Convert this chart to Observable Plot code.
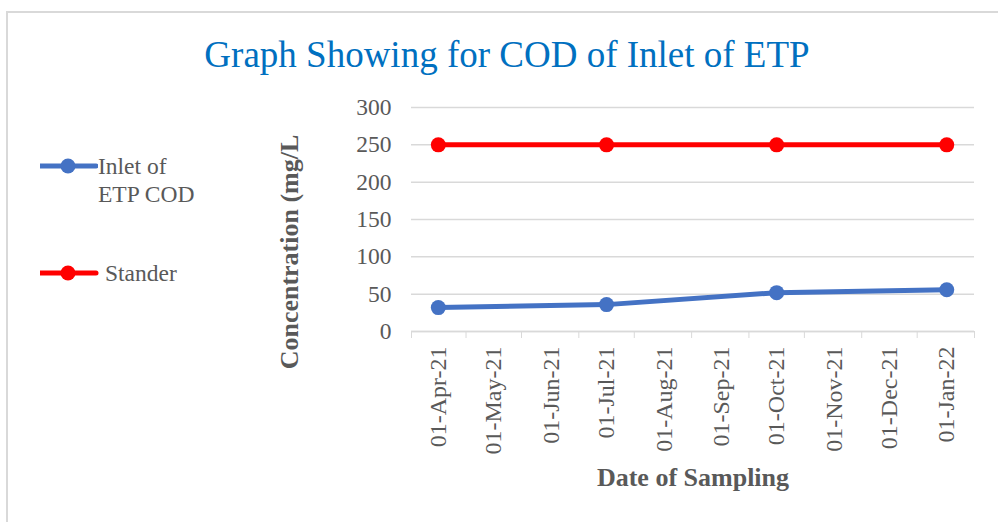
<!DOCTYPE html>
<html>
<head>
<meta charset="utf-8">
<script src="https://cdn.jsdelivr.net/npm/d3@7"></script>
<script src="https://cdn.jsdelivr.net/npm/@observablehq/plot@0.6"></script>
<style>
  body { margin: 0; background: #fff; }
  #wrap { position: relative; width: 998px; height: 522px; overflow: hidden;
          font-family: "Liberation Serif", "Times New Roman", serif; background: #fff; }
  #frame { position: absolute; left: 6px; top: 11px; width: 1000px; height: 520px;
           border-left: 2px solid #d9d9d9; border-top: 2px solid #d9d9d9; }
  #title { position: absolute; left: 8px; width: 998px; top: 36px; text-align: center;
           color: #0070C0; font-size: 37px; line-height: 1; white-space: nowrap; }
  #chart { position: absolute; left: 0; top: 90px; }
  #ylabel { position: absolute; left: 290px; top: 252px; transform: translate(-50%, -50%) rotate(-90deg);
            font-weight: bold; font-size: 26px; color: #595959; white-space: nowrap; line-height: 1; }
  #legend { position: absolute; left: 0; top: 0; }
  .lg { position: absolute; display: flex; align-items: flex-start; color: #595959;
        font-size: 23.5px; line-height: 28px; white-space: nowrap; }
  .lg svg { flex: none; }
  [aria-label="x-axis label"] text {
    font-weight: bold !important; font-size: 26px !important; fill: #595959 !important; }
</style>
</head>
<body>
<div id="wrap">
  <div id="frame"></div>
  <div id="title"></div>
  <div id="ylabel"></div>
  <div id="legend"></div>
  <div id="chart"></div>
</div>
<script>
// ---- data ----
const titleText = "Graph Showing for COD of Inlet of ETP";
const yLabelText = "Concentration (mg/L";
const xLabelText = "Date of Sampling";
const sampleDates = ["2021-04-01", "2021-07-01", "2021-10-01", "2022-01-01"];
const inletCOD    = [32, 36, 52, 56];
const standardCOD = [250, 250, 250, 250];
const seriesNames  = ["Inlet of\nETP COD", "Stander"];
const seriesColors = ["#4472C4", "#FF0000"];
const monthTicks  = ["2021-04-01","2021-05-01","2021-06-01","2021-07-01","2021-08-01",
                     "2021-09-01","2021-10-01","2021-11-01","2021-12-01","2022-01-01"];
const monthLabels = ["01-Apr-21","01-May-21","01-Jun-21","01-Jul-21","01-Aug-21",
                     "01-Sep-21","01-Oct-21","01-Nov-21","01-Dec-21","01-Jan-22"];
const slotEdges   = ["2021-03-17T12:00","2021-04-16","2021-05-16","2021-06-16","2021-07-16",
                     "2021-08-16","2021-09-16","2021-10-16","2021-11-16","2021-12-16","2022-01-16"];
const yTicks = [0, 50, 100, 150, 200, 250, 300];

document.getElementById("title").textContent = titleText;
document.getElementById("ylabel").textContent = yLabelText;

// ---- build table ----
const parse = s => new Date(s.length > 10 ? s + "Z" : s + "T00:00Z");
const rows = [];
sampleDates.forEach((d, i) => {
  rows.push({date: parse(d), value: inletCOD[i], series: seriesNames[0]});
  rows.push({date: parse(d), value: standardCOD[i], series: seriesNames[1]});
});
const tickDates = monthTicks.map(parse);
const edgeDates = slotEdges.map(parse);
const labelOf = new Map(tickDates.map((d, i) => [+d, monthLabels[i]]));

const chart = Plot.plot({
  width: 998,
  height: 432,
  marginLeft: 411,
  marginRight: 24,
  marginTop: 17,
  marginBottom: 191,
  style: {fontFamily: '"Liberation Serif", "Times New Roman", serif', color: "#595959", background: "transparent", overflow: "visible"},
  x: {type: "utc", domain: [edgeDates[0], edgeDates[edgeDates.length - 1]]},
  y: {domain: [0, 300]},
  color: {domain: seriesNames, range: seriesColors},
  marks: [
    Plot.gridY(yTicks, {stroke: "#d9d9d9", strokeOpacity: 1, strokeWidth: 1.5}),
    Plot.axisY(yTicks, {tickSize: 0, tickPadding: 20, fontSize: 23.5, fill: "#595959", label: null}),
    Plot.ruleY([0], {stroke: "#d9d9d9", strokeWidth: 1.5}),
    Plot.axisX(edgeDates, {tickSize: 7, tickFormat: () => "", stroke: "#d9d9d9", strokeOpacity: 1, label: null}),
    Plot.axisX(tickDates, {tickSize: 0, tickPadding: 15, tickRotate: -90, fontSize: 24, fill: "#595959",
      tickFormat: d => labelOf.get(+d),
      label: xLabelText, labelAnchor: "center", labelOffset: 154, labelArrow: "none"}),
    Plot.line(rows, {x: "date", y: "value", z: "series", stroke: "series", strokeWidth: 5}),
    Plot.dot(rows, {x: "date", y: "value", fill: "series", r: 7.5})
  ]
});
document.getElementById("chart").appendChild(chart);

// ---- legend (HTML) ----
const legendPos = [{left: 40, top: 152}, {left: 40, top: 259}];
const legendGap = [2, 9];
const legend = document.getElementById("legend");
seriesNames.forEach((name, i) => {
  const item = document.createElement("div");
  item.className = "lg";
  item.style.left = legendPos[i].left + "px";
  item.style.top = legendPos[i].top + "px";
  const sw = d3.create("svg").attr("width", 56 + legendGap[i]).attr("height", 28);
  sw.append("line").attr("x1", 0).attr("x2", 56).attr("y1", 14).attr("y2", 14)
    .attr("stroke", seriesColors[i]).attr("stroke-width", 5).attr("stroke-linecap", "round");
  sw.append("circle").attr("cx", 28).attr("cy", 14).attr("r", 7.5).attr("fill", seriesColors[i]);
  item.appendChild(sw.node());
  const t = document.createElement("div");
  t.innerHTML = name.replace("\n", "<br>");
  item.appendChild(t);
  legend.appendChild(item);
});
</script>
</body>
</html>
